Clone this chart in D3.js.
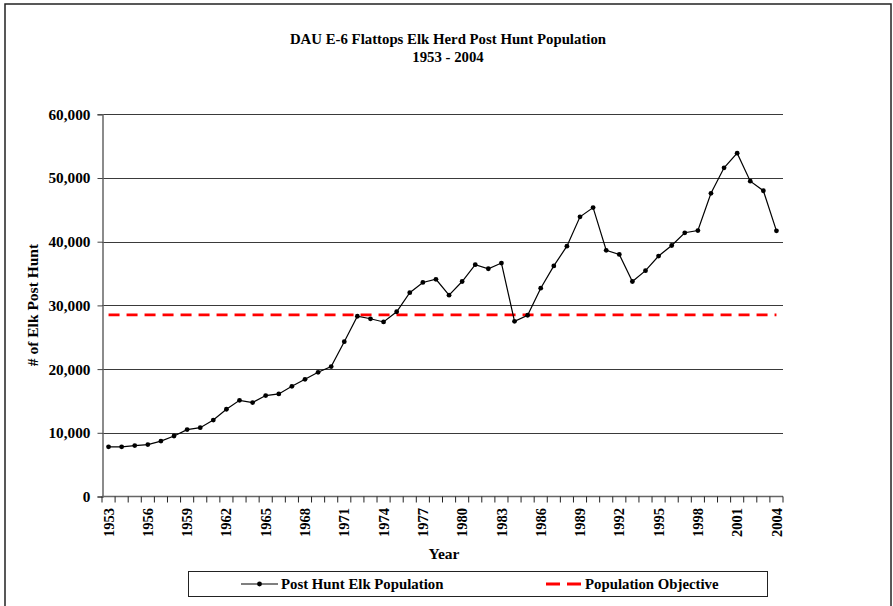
<!DOCTYPE html>
<html>
<head>
<meta charset="utf-8">
<script src="https://cdn.jsdelivr.net/npm/d3@7"></script>
<style>
  html, body { margin: 0; padding: 0; background: #fff; }
  svg { display: block; }
  text { font-family: "Liberation Serif", "Times New Roman", serif; font-weight: bold; fill: #000; }
</style>
</head>
<body>
<svg id="chart" width="893" height="606"></svg>
<script>
const years = d3.range(1953, 2005);
const population = [
  7800, 7800, 8000, 8150, 8700, 9500, 10500, 10800, 12000, 13700,
  15100, 14750, 15850, 16100, 17300, 18400, 19500, 20400, 24300, 28300,
  27900, 27400, 29000, 32000, 33600, 34100, 31600, 33750, 36400, 35750,
  36650, 27500, 28450, 32700, 36200, 39300, 43900, 45350, 38650, 38000,
  33750, 35450, 37750, 39400, 41400, 41750, 47600, 51600, 53900, 49500,
  48000, 41700
];
const objective = years.map(() => 28500);
const yTicks = [0, 10000, 20000, 30000, 40000, 50000, 60000];
const xLabelYears = years.filter((y, i) => i % 3 === 0);
const titleLines = ["DAU E-6 Flattops Elk Herd Post Hunt Population", "1953 - 2004"];
const seriesNames = ["Post Hunt Elk Population", "Population Objective"];

(function () {
const svg = d3.select("#chart");
const pL = 102, pR = 783, pT = 114.3, pB = 496.5;
const fs = "14.8px";

// outer border
svg.append("rect").attr("x", 5).attr("y", 4).attr("width", 886).attr("height", 610)
  .attr("fill", "none").attr("stroke", "#222").attr("stroke-width", 1.5);

const x = d3.scaleBand().domain(years).range([pL, pR]).padding(0);
const y = d3.scaleLinear().domain([0, 60000]).range([pB, pT]);

// gridlines
svg.append("g").selectAll("line").data(yTicks.filter(d => d > 0)).join("line")
  .attr("x1", pL).attr("x2", pR)
  .attr("y1", d => Math.round(y(d)) + 0.5).attr("y2", d => Math.round(y(d)) + 0.5)
  .attr("stroke", "#3a3a3a").attr("stroke-width", 1);

// y axis
const yAxis = d3.axisLeft(y).tickValues(yTicks).tickSize(5).tickPadding(7)
  .tickFormat(d3.format(","));
const gy = svg.append("g").attr("transform", `translate(${pL + 0.5},0)`).call(yAxis);
gy.select(".domain").attr("stroke", "#666").attr("stroke-width", 1.5);
gy.selectAll(".tick line").attr("stroke", "#444");
gy.selectAll(".tick text").style("font-size", "15.3px").style("font-family", "Liberation Serif").style("font-weight", "bold");

// x axis: ticks at category boundaries
const gx = svg.append("g");
gx.append("line").attr("x1", pL).attr("x2", pR).attr("y1", pB).attr("y2", pB)
  .attr("stroke", "#666").attr("stroke-width", 1.5);
const boundaries = years.map(yr => x(yr)).concat([pR]);
gx.selectAll("line.tk").data(boundaries).join("line").attr("class", "tk")
  .attr("x1", d => d).attr("x2", d => d).attr("y1", pB).attr("y2", pB + 6)
  .attr("stroke", "#222").attr("stroke-width", 1);
gx.selectAll("text").data(xLabelYears).join("text")
  .attr("transform", d => `translate(${x(d) + x.bandwidth() / 2},508) rotate(-90)`)
  .attr("text-anchor", "end").attr("dy", "0.35em")
  .style("font-size", "14.5px").text(d => d);

// axis titles
svg.append("text").attr("x", 444).attr("y", 559).attr("text-anchor", "middle")
  .style("font-size", "15.5px").text("Year");
svg.append("text").attr("transform", "translate(38,305) rotate(-90)").attr("text-anchor", "middle")
  .style("font-size", "15.5px").text("# of Elk Post Hunt");

// title
svg.append("text").attr("x", 448).attr("y", 44).attr("text-anchor", "middle")
  .style("font-size", fs).text(titleLines[0]);
svg.append("text").attr("x", 448).attr("y", 61.5).attr("text-anchor", "middle")
  .style("font-size", fs).text(titleLines[1]);

const cx = d => x(d) + x.bandwidth() / 2;

// objective line
svg.append("path").datum(objective)
  .attr("d", d3.line().x((d, i) => cx(years[i])).y(d => y(d)))
  .attr("fill", "none").attr("stroke", "#ff0000").attr("stroke-width", 2.8)
  .attr("stroke-dasharray", "11,7");

// population line
svg.append("path").datum(population)
  .attr("d", d3.line().x((d, i) => cx(years[i])).y(d => y(d)))
  .attr("fill", "none").attr("stroke", "#000").attr("stroke-width", 1.2);
svg.append("g").selectAll("circle").data(population).join("circle")
  .attr("cx", (d, i) => cx(years[i])).attr("cy", d => y(d)).attr("r", 2.4).attr("fill", "#000");

// legend
const lg = svg.append("g");
lg.append("rect").attr("x", 188.5).attr("y", 571.5).attr("width", 579).attr("height", 25)
  .attr("fill", "#fff").attr("stroke", "#222").attr("stroke-width", 1);
lg.append("line").attr("x1", 241).attr("x2", 278).attr("y1", 584).attr("y2", 584)
  .attr("stroke", "#000").attr("stroke-width", 1.2);
lg.append("circle").attr("cx", 259.5).attr("cy", 584).attr("r", 2.4).attr("fill", "#000");
lg.append("text").attr("x", 281).attr("y", 589).style("font-size", fs).text(seriesNames[0]);
lg.append("line").attr("x1", 546).attr("x2", 581).attr("y1", 584).attr("y2", 584)
  .attr("stroke", "#ff0000").attr("stroke-width", 2.8).attr("stroke-dasharray", "14,7");
lg.append("text").attr("x", 585).attr("y", 589).style("font-size", fs).text(seriesNames[1]);
})();
</script>
</body>
</html>
